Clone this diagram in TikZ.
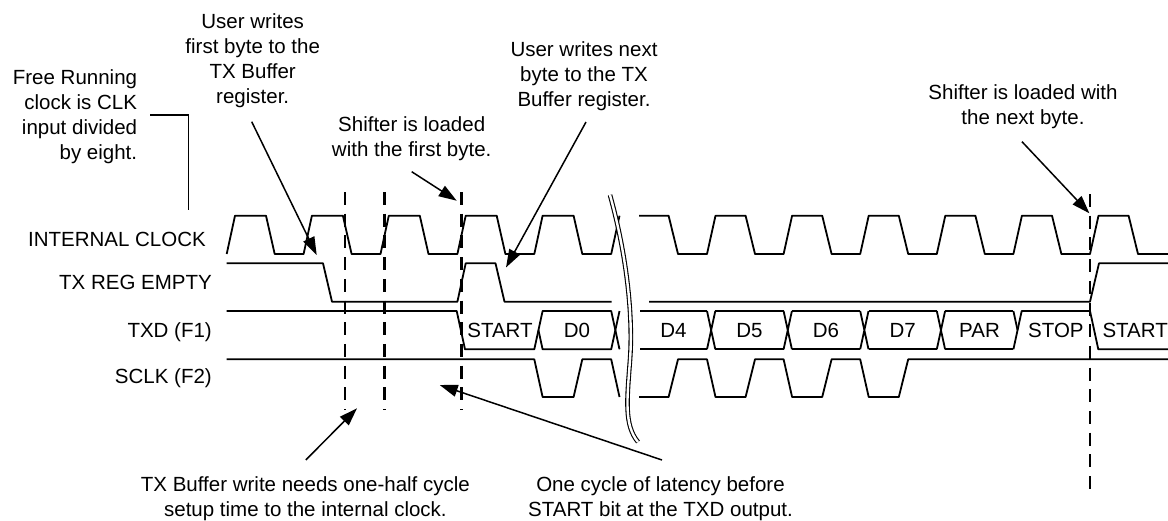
\documentclass[tikz,border=0pt]{standalone}
\usepackage{fontspec}
\setmainfont{Liberation Sans}
\usetikzlibrary{arrows.meta}
\begin{document}
\begin{tikzpicture}[x=1pt,y=-1pt,
  sig/.style={line width=1.8pt, line join=round},
  guide/.style={line width=2.6pt, dash pattern=on 13pt off 8.7pt},
  callout/.style={line width=1.5pt, -{Triangle[length=18pt,width=12pt]}},
  leader/.style={line width=1.5pt},
  brk/.style={line width=1.1pt, double=white, double distance=2.4pt},
  lbl/.style={font=\fontsize{20.5}{25}\selectfont, inner sep=0pt},
  note/.style={lbl, align=center, anchor=north},
]
\useasboundingbox (0,0) rectangle (1168,520);

% ---------- signal names ----------
\node[lbl, anchor=base east] (nclk)  at (206,246.6) {INTERNAL CLOCK};
\node[lbl, anchor=base east] (ntxr)  at (212,289)   {TX REG EMPTY};
\node[lbl, anchor=base east] (ntxd)  at (212,337.3) {TXD (F1)};
\node[lbl, anchor=base east] (nsclk) at (212,383.5) {SCLK (F2)};

% ---------- INTERNAL CLOCK ----------
\draw[sig] (226.7,254)
  foreach \k in {0,...,4} {
    -- ({226.7+76.9*\k+8.3},215.7) -- ({226.7+76.9*\k+39.3},215.7)
    -- ({226.7+76.9*\k+48},254) -- ({226.7+76.9*(\k+1)},254) }
  -- (619.5,215.7);
\draw[sig] (639,215.7) -- (668.6,215.7) -- (678,254) -- (707,254)
  foreach \k in {0,...,4} {
    -- ({707+76.6*\k+8.5},215.7) -- ({707+76.6*\k+38.6},215.7)
    -- ({707+76.6*\k+48},254) -- ({707+76.6*(\k+1)},254) }
  -- (1098.5,215.7) -- (1128.6,215.7) -- (1138,254) -- (1168,254);

% ---------- TX REG EMPTY ----------
\draw[sig] (226.7,263.3) -- (323,263.3) -- (332,301.7) -- (457.4,301.7)
  -- (465.7,263.3) -- (495.5,263.3) -- (504.5,301.7) -- (611.7,301.7);
\draw[sig] (649,301.7) -- (1090,301.7) -- (1099,263.3) -- (1168,263.3);

% ---------- TXD (F1) ----------
\draw[sig] (226.7,311) -- (456.7,311) -- (465,349.3) -- (534.3,349.3)
  -- (542.6,311) -- (611.2,311) -- (619.5,349.3);
\draw[sig] (538.45,330.15) -- (542.6,349.3) -- (611.2,349.3) -- (619.5,311);
% after the break
\draw[sig] (640,311) -- (707,311) (640,349.3) -- (707,349.3);
\foreach \k in {0,...,3} {
  \draw[sig] ({707+76.6*\k},311) -- ({707+76.6*\k+8.3},349.3)
             ({707+76.6*\k},349.3) -- ({707+76.6*\k+8.3},311);
  \draw[sig] ({707+76.6*\k+8.3},311) -- ({707+76.6*(\k+1)},311)
             ({707+76.6*\k+8.3},349.3) -- ({707+76.6*(\k+1)},349.3);
}
\draw[sig] (1013.4,349.3) -- (1021.7,311) -- (1090,311) -- (1098.3,349.3) -- (1168,349.3);
\draw[sig] (1013.4,311) -- (1017.55,330.15);

\node[lbl, anchor=base] (tstart) at (500,337.3)    {START};
\node[lbl, anchor=base] (td0)    at (577,337.3)    {D0};
\node[lbl, anchor=base] (td4)    at (673.5,337.3)  {D4};
\node[lbl, anchor=base] (td5)    at (749.5,337.3)  {D5};
\node[lbl, anchor=base] (td6)    at (826,337.3)    {D6};
\node[lbl, anchor=base] (td7)    at (902.6,337.3)  {D7};
\node[lbl, anchor=base] (tpar)   at (979.5,337.3)  {PAR};
\node[lbl, anchor=base] (tstop)  at (1055.9,337.3) {STOP};
\node[lbl, anchor=base east] (tstart2) at (1168,337.3) {START};

% ---------- SCLK (F2) ----------
\draw[sig] (226.7,359.3) -- (534.3,359.3) -- (542.6,397) -- (573.6,397)
  -- (582.3,359.3) -- (611.2,359.3) -- (619.5,397);
\draw[sig] (639,397) -- (668.6,397) -- (678,359.3) -- (707,359.3)
  foreach \k in {0,...,2} {
    -- ({707+76.6*\k+8.5},397) -- ({707+76.6*\k+38.6},397)
    -- ({707+76.6*\k+48},359.3) -- ({707+76.6*(\k+1)},359.3) }
  -- (1168,359.3);

% ---------- time break ----------
\draw[brk] (610,195) .. controls (628,260) and (633,320) .. (630,360)
  .. controls (627,400) and (624,425) .. (638,442);

% ---------- dashed reference lines ----------
\draw[guide] (345,192) -- (345,410);
\draw[guide] (384.3,192) -- (384.3,410);
\draw[guide] (461.7,192) -- (461.7,410);
\draw[guide] (1090,194) -- (1090,489);

% ---------- annotations ----------
\node[note, anchor=north east, align=right] (afree) at (137.3,69.4)
  {Free Running\\clock is CLK\\input divided\\by eight.};
\node[note] (afirst) at (252.7,13.4) {User writes\\first byte to the\\TX Buffer\\register.};
\node[note] (aload1) at (411.7,116.2) {Shifter is loaded\\with the first byte.};
\node[note] (anext) at (584,41.7) {User writes next\\byte to the TX\\Buffer register.};
\node[note] (aload2) at (1023,84.4) {Shifter is loaded with\\the next byte.};
\node[note] (asetup) at (305.4,476) {TX Buffer write needs one-half cycle\\setup time to the internal clock.};
\node[note] (alat) at (660.5,476) {One cycle of latency before\\START bit at the TXD output.};

\coordinate (lfree0) at (150,115);
\coordinate (lfree1) at (188.3,115);
\coordinate (lfree2) at (188.3,210);
\draw[leader] (lfree0) -- (lfree1) -- (lfree2);

\coordinate (t1) at (251.7,121.7);  \coordinate (h1) at (316.7,255);
\coordinate (t2) at (411.7,171.7);  \coordinate (h2) at (456.7,200.7);
\coordinate (t3) at (586,122);      \coordinate (h3) at (506,267.5);
\coordinate (t4) at (1022,141.7);   \coordinate (h4) at (1089.4,213.3);
\coordinate (t5) at (305.8,460);    \coordinate (h5) at (357,408.3);
\coordinate (t6) at (662,460);      \coordinate (h6) at (439.7,385);
\draw[callout] (t1) -- (h1);
\draw[callout] (t2) -- (h2);
\draw[callout] (t3) -- (h3);
\draw[callout] (t4) -- (h4);
\draw[callout] (t5) -- (h5);
\draw[callout] (t6) -- (h6);
\end{tikzpicture}
\end{document}
